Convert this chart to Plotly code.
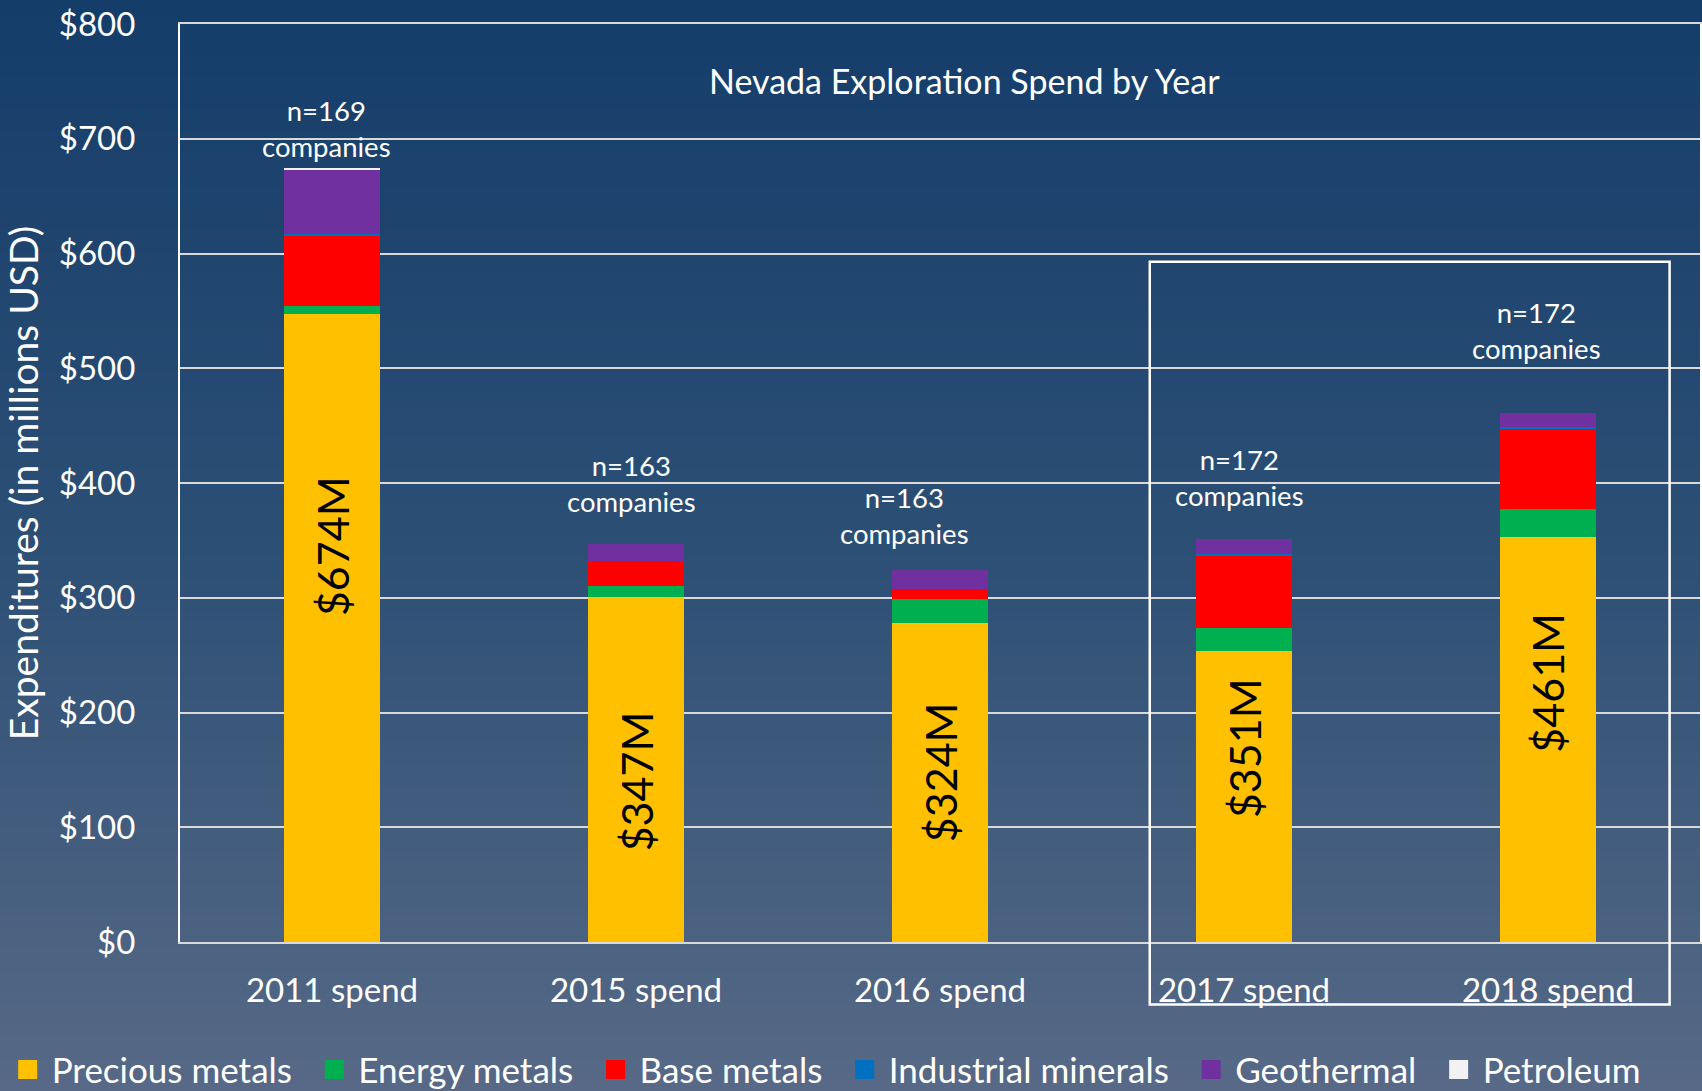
import plotly.graph_objects as go

# values (millions USD)
years = ['2011 spend', '2015 spend', '2016 spend', '2017 spend', '2018 spend']
precious = [547, 301, 278, 253.5, 353]
energy = [7.5, 9, 21, 20.5, 24]
base = [61, 22, 9, 63, 70]
industrial = [1.5, 0, 0, 1.5, 2]
geothermal = [56, 15, 16, 13, 12]
petroleum = [1, 0, 0, 0, 0]
totals = [674, 347, 324, 351, 461]
companies = [169, 163, 163, 172, 172]

series = [
    ('Precious metals', precious, '#FFC000'),
    ('Energy metals', energy, '#00B050'),
    ('Base metals', base, '#FF0000'),
    ('Industrial minerals', industrial, '#0070C0'),
    ('Geothermal', geothermal, '#7030A0'),
    ('Petroleum', petroleum, '#F2F2F2'),
]

# label placement (layout only)
label_mid = [345, 140, 148, 169, 226]
n_yshift = [4, 24, 18, 25, 46]
n_xshift = [-6, -5, -36, -5, -12]

FONT = 'Lato'

fig = go.Figure()
for name, vals, col in series:
    fig.add_trace(go.Bar(x=years, y=vals, name=name, marker_color=col,
                         marker_line_width=0, width=0.314, showlegend=False))
    # proxy for a bigger legend swatch (trailing nbsp widens the entry gap)
    fig.add_trace(go.Scatter(x=[None], y=[None], mode='markers', name=name + '\u00a0\u2009',
                             marker=dict(symbol='square', size=16, color=col,
                                         line=dict(color=col, width=3))))

# background gradient as thin bands
stops = [(0.0, (21, 61, 106)), (0.5, (44, 79, 117)), (1.0, (87, 105, 134))]
def grad(t):
    for (t0, c0), (t1, c1) in zip(stops[:-1], stops[1:]):
        if t <= t1:
            f = (t - t0) / (t1 - t0)
            return 'rgb(%d,%d,%d)' % tuple(round(a + (b - a) * f) for a, b in zip(c0, c1))
    return 'rgb(%d,%d,%d)' % stops[-1][1]

H, top_m, plot_h = 1091, 24, 918.4
nb = 100
shapes = []
for i in range(nb):
    py0 = i * H / nb
    py1 = (i + 1) * H / nb + 1
    shapes.append(dict(type='rect', xref='paper', yref='paper', layer='below',
                       x0=-0.2, x1=1.2,
                       y0=(top_m + plot_h - py1) / plot_h, y1=(top_m + plot_h - py0) / plot_h,
                       fillcolor=grad(i / (nb - 1)), line_width=0))

# highlight box around 2017/2018
shapes.append(dict(type='rect', xref='x', yref='paper', x0=2.69, x1=4.40,
                   y0=-0.068, y1=0.741, line=dict(color='white', width=2.5),
                   fillcolor='rgba(0,0,0,0)', layer='above'))

annotations = [dict(text='Nevada Exploration Spend by Year', xref='paper', yref='y',
                    x=0.516, y=751, showarrow=False,
                    font=dict(family=FONT, size=34, color='white'))]
for i, yr in enumerate(years):
    annotations.append(dict(text='n=%d<br>companies' % companies[i], x=yr, y=totals[i],
                            yanchor='bottom', yshift=n_yshift[i], xshift=n_xshift[i],
                            showarrow=False, font=dict(family=FONT, size=27.5, color='white')))
    annotations.append(dict(text='$%dM' % totals[i], x=yr, y=label_mid[i], textangle=-90,
                            showarrow=False, font=dict(family=FONT, size=43, color='black')))

fig.update_layout(
    width=1702, height=1091,
    margin=dict(l=180, r=2, t=24, b=149, autoexpand=False),
    barmode='stack',
    paper_bgcolor='#2c4f75', plot_bgcolor='rgba(0,0,0,0)',
    font=dict(family=FONT, color='white'),
    shapes=shapes, annotations=annotations,
    legend=dict(orientation='h', x=-0.116, xanchor='left', y=-0.107, yanchor='top',
                traceorder='normal',
                font=dict(family=FONT, size=35, color='white'),
                bgcolor='rgba(0,0,0,0)', itemwidth=38, tracegroupgap=0),
    xaxis=dict(type='category', tickfont=dict(family=FONT, size=33, color='white'),
               showline=True, linecolor='#d9d9d9', linewidth=2, mirror=True,
               ticks='outside', ticklen=18, tickcolor='rgba(0,0,0,0)', showgrid=False),
    yaxis=dict(range=[0, 800], dtick=100, tickprefix='$',
               tickfont=dict(family=FONT, size=33, color='white'),
               showgrid=True, gridcolor='#d9d9d9', gridwidth=2, zeroline=False,
               showline=True, linecolor='white', linewidth=2, mirror=True,
               ticks='outside', ticklen=36, tickcolor='rgba(0,0,0,0)',
               title=dict(text='Expenditures (in millions USD)', standoff=10,
                          font=dict(family=FONT, size=39, color='white'))),
)

fig.write_html('out.html', config={'displayModeBar': False},
               post_script="document.body.style.margin='0';")
